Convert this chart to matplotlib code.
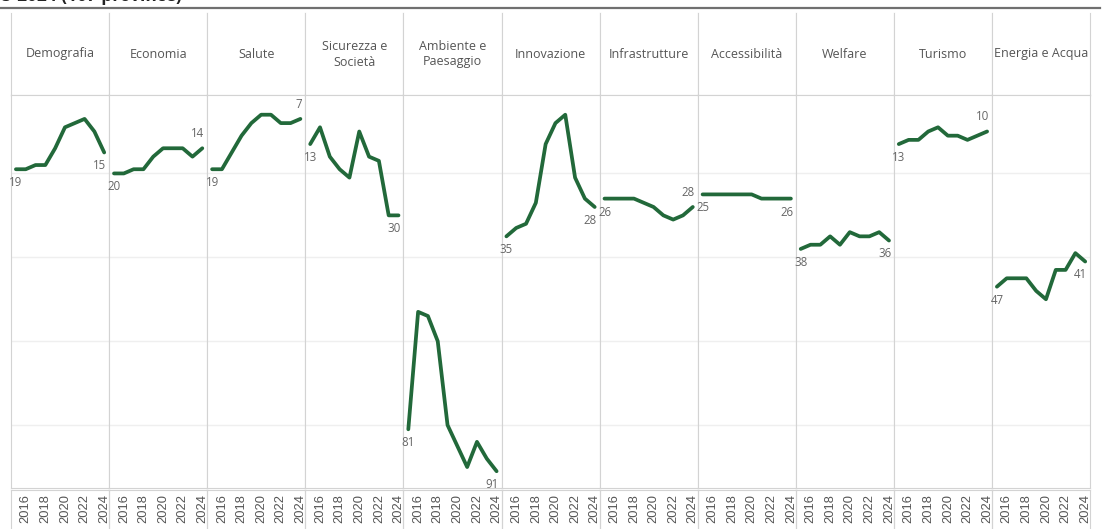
import matplotlib.pyplot as plt
from matplotlib.lines import Line2D

plt.rcParams['font.family'] = ['Open Sans', 'DejaVu Sans']

years = list(range(2015, 2025))
tick_years = [2016, 2018, 2020, 2022, 2024]

categories = ['Demografia', 'Economia', 'Salute', 'Sicurezza e\nSocietà',
              'Ambiente e\nPaesaggio', 'Innovazione', 'Infrastrutture',
              'Accessibilità', 'Welfare', 'Turismo', 'Energia e Acqua']

# rank among 107 provinces (1 = best)
demografia = [19, 19, 18, 18, 14, 9, 8, 7, 10, 15]
economia = [20, 20, 19, 19, 16, 14, 14, 14, 16, 14]
salute = [19, 19, 15, 11, 8, 6, 6, 8, 8, 7]
sicurezza = [13, 9, 16, 19, 21, 10, 16, 17, 30, 30]
ambiente = [81, 53, 54, 60, 80, 85, 90, 84, 88, 91]
innovazione = [35, 33, 32, 27, 13, 8, 6, 21, 26, 28]
infrastrutture = [26, 26, 26, 26, 27, 28, 30, 31, 30, 28]
accessibilita = [25, 25, 25, 25, 25, 25, 26, 26, 26, 26]
welfare = [38, 37, 37, 35, 37, 34, 35, 35, 34, 36]
turismo = [13, 12, 12, 10, 9, 11, 11, 12, 11, 10]
energia = [47, 45, 45, 45, 48, 50, 43, 43, 39, 41]

series = [demografia, economia, salute, sicurezza, ambiente, innovazione,
          infrastrutture, accessibilita, welfare, turismo, energia]

W, H = 1106, 529
fig = plt.figure(figsize=(W / 100, H / 100), dpi=100)

green = '#22693a'
sep = '#d3d3d3'
x0, pw = 11, 98.1
hdr_top, hdr_bot = 13, 95
plot_bot = 488
tick_top = 490


def fy(py):
    return 1 - py / H


for i, (cat, vals) in enumerate(zip(categories, series)):
    left = (x0 + i * pw) / W
    width = pw / W

    # header cell
    hax = fig.add_axes([left, fy(hdr_bot), width, (hdr_bot - hdr_top) / H])
    hax.set_xticks([])
    hax.set_yticks([])
    hax.spines['top'].set_visible(False)
    for s in ['left', 'right', 'bottom']:
        hax.spines[s].set_color(sep)
    hax.text(0.5, 0.5, cat, ha='center', va='center', fontsize=9,
             color='#555555', linespacing=1.3, transform=hax.transAxes)

    # year axis cell (frame only)
    tax = fig.add_axes([left, fy(H + 10), width, (H + 10 - tick_top) / H])
    tax.set_xticks([])
    tax.set_yticks([])
    tax.patch.set_alpha(0)
    tax.spines['bottom'].set_visible(False)
    for s in ['left', 'right', 'top']:
        tax.spines[s].set_color(sep)

    # line pane
    ax = fig.add_axes([left, fy(plot_bot), width, (plot_bot - hdr_bot) / H])
    ax.plot(years, vals, color=green, lw=2.7, solid_capstyle='round',
            solid_joinstyle='round', zorder=3)
    ax.set_xlim(2014.5, 2024.5)
    ax.set_ylim(95, 1.3)
    ax.set_yticks([20, 40, 60, 80])
    ax.set_xticks(tick_years)
    ax.set_xticklabels([str(y) for y in tick_years], rotation=90,
                       fontsize=9.3, color='#555555',
                       family=['Liberation Sans', 'DejaVu Sans'])
    ax.tick_params(axis='x', length=0, pad=4.5)
    ax.tick_params(left=False, labelleft=False)
    ax.grid(axis='y', color='#efefef', lw=1)
    for s in ax.spines.values():
        s.set_color(sep)

    ax.annotate(str(vals[0]), (years[0], vals[0]), xytext=(0, -5),
                textcoords='offset points', ha='center', va='top',
                fontsize=8.3, color='#666666')
    above = vals[-1] < vals[-2]
    ax.annotate(str(vals[-1]), (years[-1], vals[-1]),
                xytext=(1.5, 6 if above else -5), textcoords='offset points',
                ha='right', va='bottom' if above else 'top',
                fontsize=8.3, color='#666666')

# title (clipped at top, as in the source) and rule beneath it
fig.text(182 / W, fy(5), '2015-2024 (107 province)', ha='right',
         va='bottom', fontsize=12.5, fontweight='bold', color='#222222')
fig.add_artist(Line2D([0, 1100 / W], [fy(7.5), fy(7.5)], color='#707070',
                      lw=1.6))

fig.savefig('out.png', dpi=100)
